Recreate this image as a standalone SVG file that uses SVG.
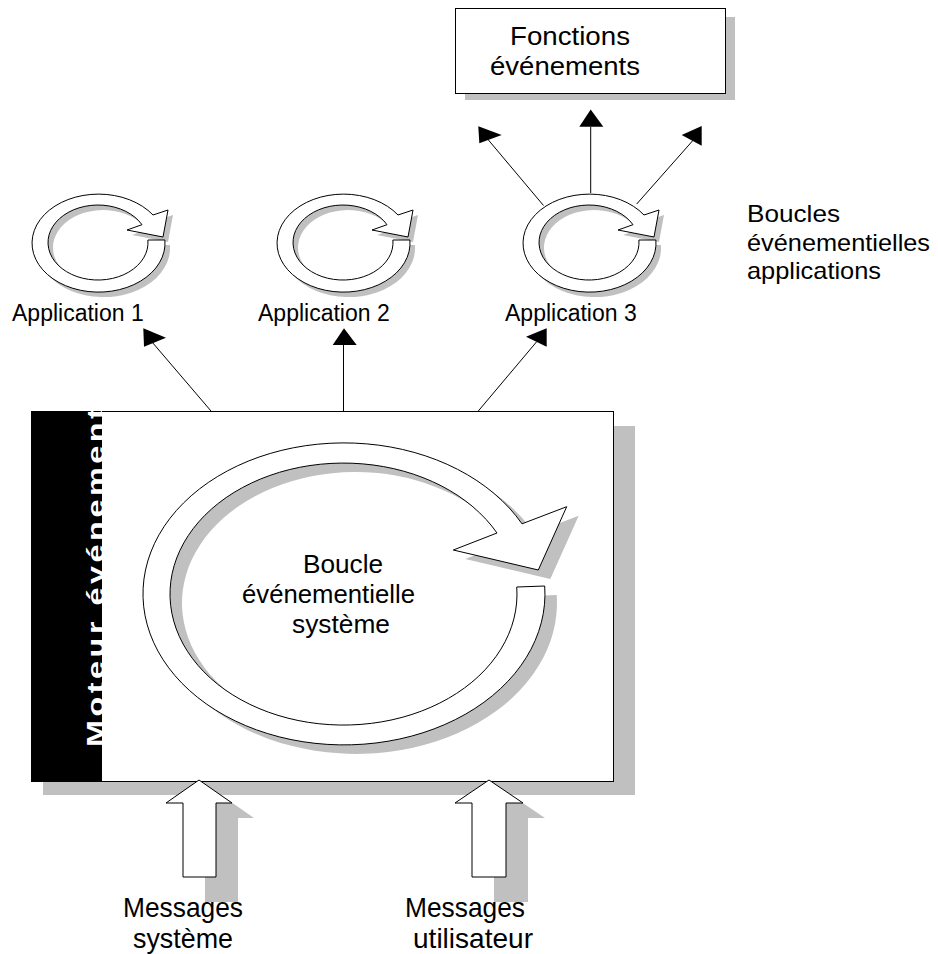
<svg xmlns="http://www.w3.org/2000/svg" width="938" height="954" viewBox="0 0 938 954">
<style>
.shadow{fill:#c0c0c0;stroke:none}
.box{fill:#fff;stroke:#000;stroke-width:1}
.ring{fill:#fff;stroke:#000;stroke-width:1;stroke-linejoin:round}
.conn{stroke:#000;stroke-width:1;fill:none}
.head{fill:#000;stroke:none}
.blk{fill:#fff;stroke:#000;stroke-width:1;stroke-linejoin:miter}
.lbl{font-family:"Liberation Sans",Arial,sans-serif;fill:#000}
.bar{font-family:"Liberation Sans",Arial,sans-serif;font-weight:bold;fill:#fff}
</style>
<defs>
<path id="smallLoop" d="M164.9,240 A66.5,49 0 1 1 153,215 L168,210 L163,237 L127,230 L142,224.7 A50,37.5 0 1 0 147.9,240 Z"/>
<path id="bigLoop" d="M544.7,586 A201,151 0 1 1 522,523.8 L566.7,506.7 L538.3,570 L453.3,550 L497,533 A173.5,131 0 1 0 516.75,587 Z"/>
<clipPath id="barClip"><rect x="31" y="411" width="71" height="370"/></clipPath>
</defs>
<rect x="0" y="0" width="938" height="954" fill="#fff"/>

<g id="fonctions">
<rect class="shadow" x="465" y="17" width="270" height="83"/>
<rect class="box" x="455.5" y="8.5" width="270" height="85"/>
<text class="lbl" font-size="25" x="510" y="45" textLength="120" lengthAdjust="spacingAndGlyphs">Fonctions</text>
<text class="lbl" font-size="25" x="490" y="75" textLength="150" lengthAdjust="spacingAndGlyphs">événements</text>
</g>

<g id="app1">
<use href="#smallLoop" class="shadow" transform="translate(5,5)"/>
<use href="#smallLoop" class="ring"/>
<text class="lbl" font-size="23" x="12" y="321">Application 1</text>
</g>
<g id="app2">
<use href="#smallLoop" class="shadow" transform="translate(250,5)"/>
<use href="#smallLoop" class="ring" transform="translate(245,0)"/>
<text class="lbl" font-size="23" x="258" y="321">Application 2</text>
</g>
<g id="app3">
<use href="#smallLoop" class="shadow" transform="translate(496,5)"/>
<use href="#smallLoop" class="ring" transform="translate(491,0)"/>
<text class="lbl" font-size="23" x="505" y="321">Application 3</text>
</g>

<g id="legend">
<text class="lbl" font-size="24" x="747" y="222" textLength="93" lengthAdjust="spacingAndGlyphs">Boucles</text>
<text class="lbl" font-size="24" x="747" y="250.5" textLength="183" lengthAdjust="spacingAndGlyphs">événementielles</text>
<text class="lbl" font-size="24" x="747" y="278.5" textLength="134" lengthAdjust="spacingAndGlyphs">applications</text>
</g>

<g id="moteur">
<rect class="shadow" x="43" y="426" width="592" height="369"/>
<rect class="box" x="31.5" y="411.5" width="582" height="370"/>
<rect x="31" y="411" width="71" height="370" fill="#000"/>
<g clip-path="url(#barClip)">
<text class="bar" font-size="24" letter-spacing="2.6" transform="translate(104,747) rotate(-90) scale(1.35,1)">Moteur événementiel</text>
</g>
</g>

<g id="boucle-systeme">
<use href="#bigLoop" class="shadow" transform="translate(12,9)"/>
<use href="#bigLoop" class="ring"/>
<text class="lbl" font-size="25" x="303" y="573" textLength="80" lengthAdjust="spacingAndGlyphs">Boucle</text>
<text class="lbl" font-size="25" x="242" y="603" textLength="173" lengthAdjust="spacingAndGlyphs">événementielle</text>
<text class="lbl" font-size="25" x="292" y="633" textLength="98" lengthAdjust="spacingAndGlyphs">système</text>
</g>

<g id="msg-systeme">
<polygon class="shadow" points="221,795 254,818 238,818 238,902 205,902 205,818 188,818"/>
<polygon class="blk" points="199,780 232,803 216,803 216,877 183,877 183,803 166,803"/>
<text class="lbl" font-size="28" x="123" y="917" textLength="120" lengthAdjust="spacingAndGlyphs">Messages</text>
<text class="lbl" font-size="28" x="133" y="948" textLength="100" lengthAdjust="spacingAndGlyphs">système</text>
</g>

<g id="msg-utilisateur">
<polygon class="shadow" points="511,795 545,818 528,818 528,902 494,902 494,818 477,818"/>
<polygon class="blk" points="489,780 523,803 506,803 506,877 472,877 472,803 455,803"/>
<text class="lbl" font-size="28" x="405" y="917" textLength="120" lengthAdjust="spacingAndGlyphs">Messages</text>
<text class="lbl" font-size="28" x="413" y="948" textLength="120" lengthAdjust="spacingAndGlyphs">utilisateur</text>
</g>

<g id="connectors">
<line class="conn" x1="211" y1="411" x2="152" y2="342"/>
<polygon class="head" points="143.3,328.3 166,337.7 144,346.7"/>
<line class="conn" x1="343.5" y1="411" x2="343.5" y2="345"/>
<polygon class="head" points="344,328.3 332.7,345 356.7,345"/>
<line class="conn" x1="478.3" y1="411" x2="536.7" y2="341.7"/>
<polygon class="head" points="526,336.7 546.7,328.3 546.7,346.7"/>
<line class="conn" x1="590.7" y1="193" x2="590.7" y2="126.7"/>
<polygon class="head" points="590.7,109.5 579.3,126.7 603.3,126.7"/>
<line class="conn" x1="543.5" y1="205.5" x2="488" y2="139.5"/>
<polygon class="head" points="478.3,126.3 501.7,135 479.3,143.3"/>
<line class="conn" x1="636.7" y1="204" x2="693.3" y2="140"/>
<polygon class="head" points="681.7,135 701.7,126 701.7,145.7"/>
</g>
</svg>
